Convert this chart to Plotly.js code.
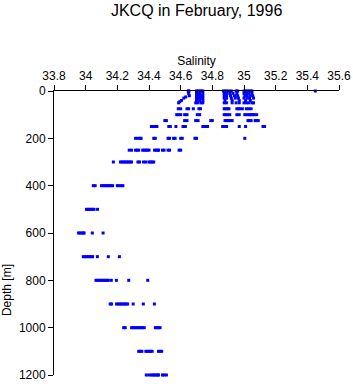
<!DOCTYPE html>
<html>
<head>
<meta charset="utf-8">
<script src="https://cdn.plot.ly/plotly-3.0.1.min.js"></script>
<style>html,body{margin:0;padding:0;background:#fff;}#chart{width:353px;height:384px;}</style>
</head>
<body>
<div id="chart"></div>
<script>
// Sampling depths (m)
const depthLevels = [0, 10, 20, 25, 30, 40, 45, 50, 75, 100, 125, 150, 200, 250, 300, 400, 500, 600, 700, 800, 900, 1000, 1100, 1200];
// Salinity values observed at each depth (same order as depthLevels)
const sal0    = [34.648, 34.652, 34.70, 34.71, 34.72, 34.73, 34.74, 34.87, 34.88, 34.89, 34.905, 34.92, 34.95, 34.96, 35.0, 35.01, 35.02, 35.03, 35.04, 35.05, 35.45];
const sal10   = [34.65, 34.70, 34.71, 34.72, 34.74, 34.875, 34.89, 34.91, 34.93, 34.955, 35.0, 35.015, 35.03, 35.05];
const sal20   = [34.655, 34.70, 34.715, 34.73, 34.74, 34.875, 34.89, 34.915, 34.94, 34.96, 35.005, 35.02, 35.04, 35.055];
const sal25   = [34.632];
const sal30   = [34.62, 34.70, 34.71, 34.725, 34.74, 34.875, 34.89, 34.92, 34.945, 34.965, 35.0, 35.02, 35.035, 35.06];
const sal40   = [34.605, 34.70, 34.72, 34.74, 34.88, 34.925, 34.97, 35.01, 35.04];
const sal45   = [34.595];
const sal50   = [34.587, 34.695, 34.71, 34.73, 34.74, 34.875, 34.89, 34.925, 34.95, 34.97, 35.0, 35.015, 35.03, 35.05, 35.06];
const sal75   = [34.585, 34.60, 34.64, 34.65, 34.68, 34.715, 34.725, 34.875, 34.885, 34.895, 34.905, 34.955, 34.965, 34.975, 34.99, 35.015, 35.03, 35.045];
const sal100  = [34.575, 34.585, 34.60, 34.625, 34.64, 34.705, 34.72, 34.875, 34.885, 34.895, 34.91, 34.955, 34.97, 35.005, 35.02, 35.035, 35.045, 35.055, 35.065, 35.08];
const sal125  = [34.50, 34.51, 34.625, 34.64, 34.695, 34.71, 34.79, 34.80, 34.88, 34.89, 34.90, 34.91, 34.925, 35.025, 35.035, 35.045, 35.07, 35.08, 35.09];
const sal150  = [34.415, 34.425, 34.44, 34.45, 34.525, 34.535, 34.57, 34.615, 34.63, 34.74, 34.75, 34.76, 34.77, 34.865, 34.875, 34.89, 34.97, 35.01, 35.12, 35.13];
const sal200  = [34.315, 34.33, 34.345, 34.35, 34.43, 34.44, 34.52, 34.53, 34.555, 34.565, 34.60, 34.61, 34.69, 34.70, 35.005];
const sal250  = [34.275, 34.29, 34.315, 34.325, 34.335, 34.36, 34.37, 34.38, 34.39, 34.40, 34.435, 34.445, 34.455, 34.46, 34.485, 34.495, 34.52, 34.53, 34.59, 34.60];
const sal300  = [34.175, 34.22, 34.23, 34.24, 34.25, 34.26, 34.27, 34.28, 34.29, 34.33, 34.34, 34.365, 34.38, 34.40, 34.41, 34.42, 34.43];
const sal400  = [34.048, 34.06, 34.10, 34.11, 34.12, 34.13, 34.14, 34.15, 34.16, 34.17, 34.20, 34.21, 34.225, 34.235];
const sal500  = [34.005, 34.015, 34.025, 34.035, 34.045, 34.053, 34.075];
const sal600  = [33.955, 33.965, 33.975, 33.985, 33.99, 34.042, 34.11];
const sal700  = [33.985, 33.995, 34.005, 34.015, 34.025, 34.035, 34.044, 34.074, 34.143, 34.213];
const sal800  = [34.065, 34.075, 34.085, 34.095, 34.105, 34.115, 34.125, 34.135, 34.143, 34.162, 34.194, 34.272, 34.392];
const sal900  = [34.155, 34.163, 34.195, 34.205, 34.215, 34.225, 34.235, 34.245, 34.255, 34.265, 34.30, 34.364, 34.434];
const sal1000 = [34.24, 34.25, 34.29, 34.30, 34.31, 34.32, 34.33, 34.34, 34.35, 34.36, 34.37, 34.44, 34.45, 34.46, 34.47];
const sal1100 = [34.335, 34.345, 34.355, 34.38, 34.39, 34.40, 34.41, 34.42, 34.46, 34.47, 34.48];
const sal1200 = [34.383, 34.40, 34.415, 34.425, 34.435, 34.445, 34.455, 34.46, 34.485, 34.495, 34.51];

const salinityByLevel = [sal0, sal10, sal20, sal25, sal30, sal40, sal45, sal50, sal75, sal100, sal125, sal150, sal200, sal250, sal300, sal400, sal500, sal600, sal700, sal800, sal900, sal1000, sal1100, sal1200];

const xTicks = [33.8, 34, 34.2, 34.4, 34.6, 34.8, 35, 35.2, 35.4, 35.6];
const xTickText = ['33.8', '34', '34.2', '34.4', '34.6', '34.8', '35', '35.2', '35.4', '35.6'];
const yTicks = [0, 200, 400, 600, 800, 1000, 1200];

const xs = [], ys = [];
depthLevels.forEach((d, i) => {
  salinityByLevel[i].forEach(s => { xs.push(s); ys.push(d); });
});

const trace = {
  x: xs, y: ys, type: 'scatter', mode: 'markers',
  marker: {symbol: 'square', size: 3, color: '#0000ff', line: {width: 0}},
  cliponaxis: false, hoverinfo: 'x+y'
};

const font = {family: '"Liberation Sans", Arial, Helvetica, sans-serif', color: '#000'};

const layout = {
  width: 353, height: 384,
  margin: {l: 54, r: 14, t: 91, b: 9, pad: 0},
  paper_bgcolor: '#fff', plot_bgcolor: '#fff',
  font: Object.assign({size: 12}, font),
  showlegend: false,
  title: {text: 'JKCQ in February, 1996', font: Object.assign({size: 16}, font),
          x: 0.557, xanchor: 'center', y: 0.972, yanchor: 'middle', yref: 'container'},
  xaxis: {
    side: 'top', range: [33.8, 35.6], tickvals: xTicks, ticktext: xTickText,
    showgrid: false, zeroline: false, showline: true, linecolor: '#000', linewidth: 1,
    ticks: 'outside', ticklen: 5, tickwidth: 1, tickcolor: '#000',
    tickfont: Object.assign({size: 12}, font),
    title: {text: 'Salinity', font: Object.assign({size: 12}, font), standoff: 1}
  },
  yaxis: {
    range: [1200, 0], tickvals: yTicks,
    showgrid: false, zeroline: false, showline: true, linecolor: '#000', linewidth: 1,
    ticks: 'outside', ticklen: 5, tickwidth: 1, tickcolor: '#000',
    tickfont: Object.assign({size: 12}, font)
  },
  annotations: [{
    text: 'Depth [m]', textangle: -90, showarrow: false,
    xref: 'paper', yref: 'paper', x: -0.165, y: 0.299,
    xanchor: 'center', yanchor: 'middle',
    font: Object.assign({size: 12}, font)
  }]
};

Plotly.newPlot('chart', [trace], layout, {staticPlot: true, displayModeBar: false});
</script>
</body>
</html>
